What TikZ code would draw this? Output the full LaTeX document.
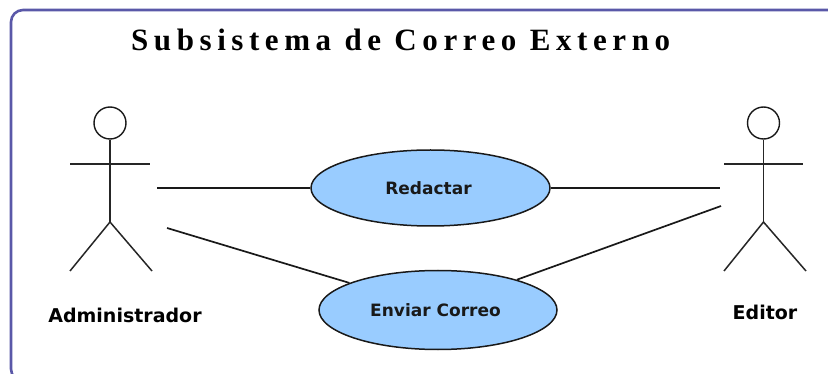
\documentclass[tikz,border=0pt]{standalone}
\usepackage{fontspec}
\setmainfont{Liberation Serif}
\newfontfamily\titlefont[LetterSpace=18]{Liberation Serif}
\newfontfamily\labelfont{DejaVu Sans}
\usetikzlibrary{shapes.geometric}
\definecolor{framec}{HTML}{5A58A8}
\definecolor{usec}{HTML}{99CCFF}
\tikzset{
  ln/.style={draw=black!90,line width=1.7pt},
  limb/.style={draw=black!85,line width=1.5pt},
  usecase/.style={ellipse,draw=black!90,line width=1.5pt,fill=usec,inner sep=0pt,font=\labelfont\bfseries\fontsize{17}{20}\selectfont,text=black!90},
  lab/.style={inner sep=0pt,font=\labelfont\bfseries\fontsize{19}{22}\selectfont},
  head/.style={circle,draw=black!90,line width=1.4pt,minimum size=32pt,inner sep=0pt,fill=white}
}
\begin{document}
\begin{tikzpicture}[x=1pt,y=-1pt]
\useasboundingbox (0,0) rectangle (828,374);
\begin{scope}
\clip (0,0) rectangle (828,374);
\fill[white] (0,0) rectangle (828,374);
\draw[framec,line width=2.6pt,rounded corners=12pt] (11,10) rectangle (840,381);
\end{scope}
\node[inner sep=0pt,anchor=base west,font=\titlefont\bfseries\fontsize{31}{36}\selectfont] (title) at (131,51) {Subsistema de Correo Externo};
% Ellipses
\node[usecase,minimum width=239pt,minimum height=76pt] (redactar) at (430.5,188) {\hspace*{-4pt}Redactar};
\node[usecase,minimum width=238pt,minimum height=79pt] (enviar) at (438,310) {\hspace*{-5pt}Enviar Correo};
% Left actor
\node[head] (headA) at (110,123) {};
\coordinate (hipA) at (110,222);
\coordinate (armLA) at (70,164);
\coordinate (armRA) at (150,164);
\coordinate (footLA) at (70,271);
\coordinate (footRA) at (152,271);
\draw[limb] (headA) -- (hipA);
\draw[limb] (armLA) -- (armRA);
\draw[limb] (footLA) -- (hipA) -- (footRA);
\node[lab] (admin) at (125,315) {Administrador};
% Right actor
\node[head] (headE) at (763.5,123) {};
\coordinate (hipE) at (763.5,222);
\coordinate (armLE) at (724,164);
\coordinate (armRE) at (803,164);
\coordinate (footLE) at (724,271);
\coordinate (footRE) at (806,271);
\draw[limb] (headE) -- (hipE);
\draw[limb] (armLE) -- (armRE);
\draw[limb] (footLE) -- (hipE) -- (footRE);
\node[lab] (editor) at (765,312) {Editor};
% Connectors
\coordinate (a1) at (157,188);
\coordinate (a2) at (167,228);
\coordinate (e1) at (720,188);
\coordinate (e2) at (721,206);
\draw[ln] (a1) -- (redactar.west);
\draw[ln] (redactar.east) -- (e1);
\draw[ln] (a2) -- (enviar.163);
\draw[ln] (enviar.21) -- (e2);
\end{tikzpicture}
\end{document}
